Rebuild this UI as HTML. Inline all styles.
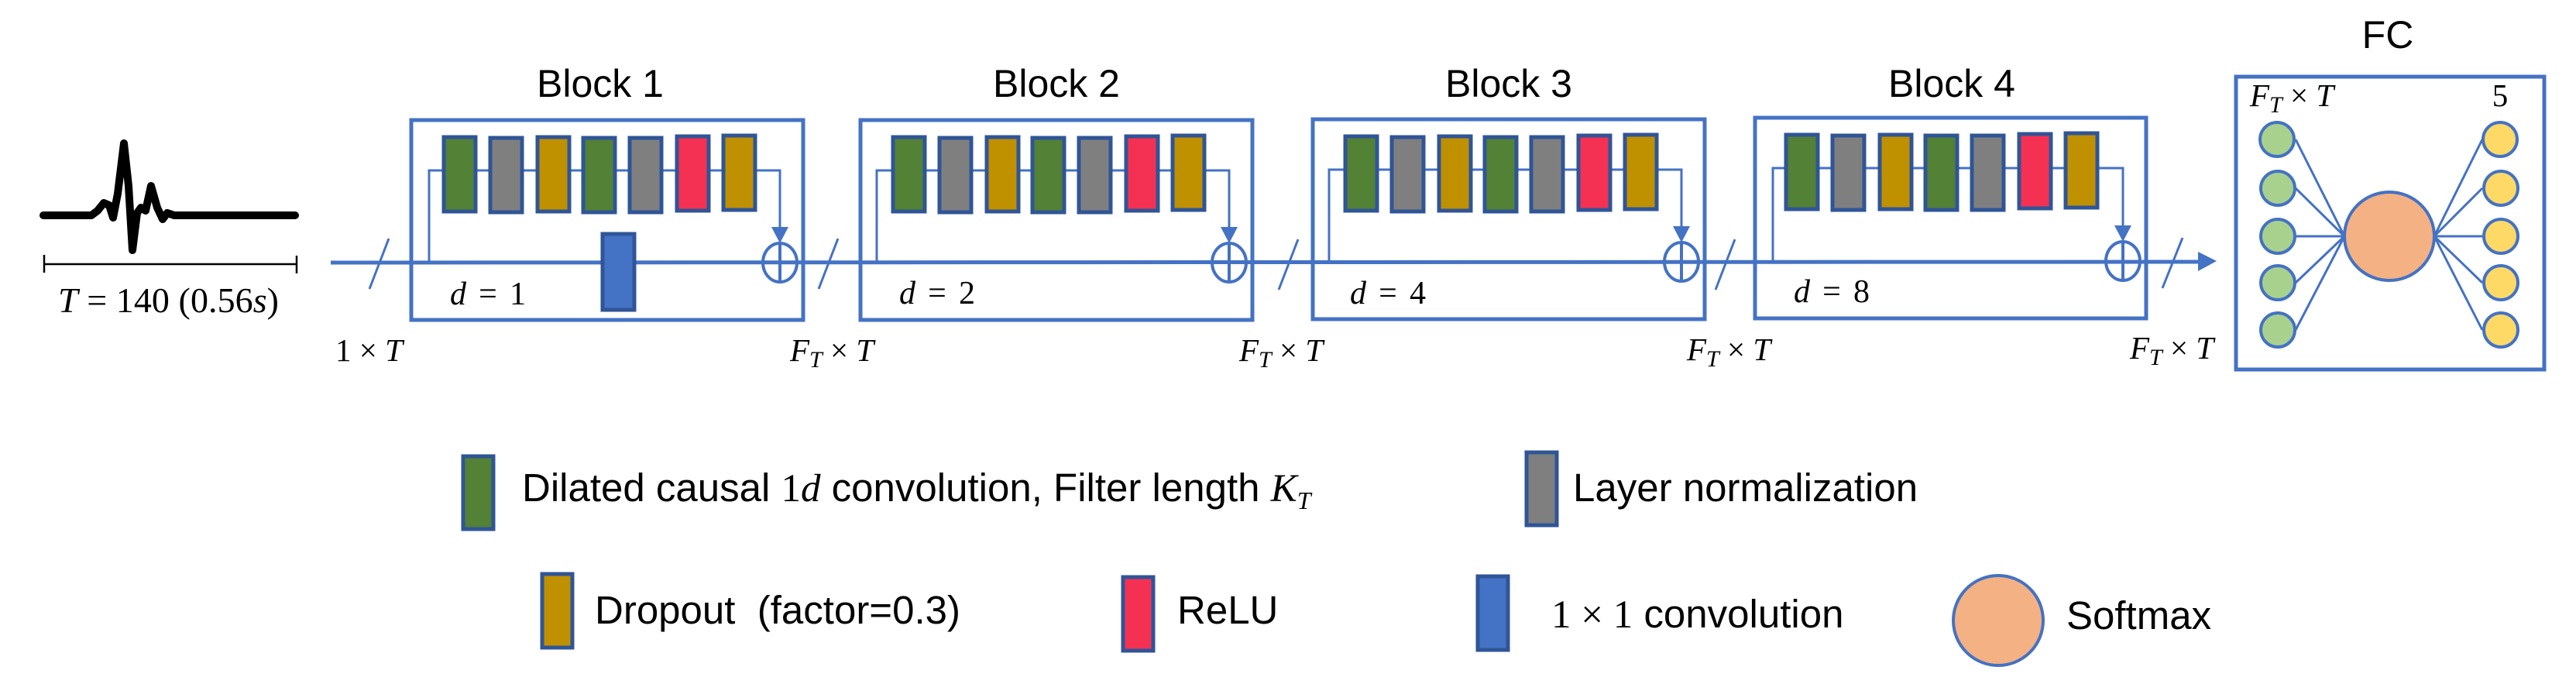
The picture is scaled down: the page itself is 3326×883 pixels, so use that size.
<!DOCTYPE html>
<html><head><meta charset="utf-8"><style>
html,body{margin:0;padding:0;background:#fff;}
svg{display:block;}
.t{font-family:"Liberation Sans",Arial,sans-serif;fill:#000;}
.m{font-family:"Liberation Serif","DejaVu Serif",serif;fill:#000;}
</style></head><body>
<svg width="3326" height="883" viewBox="0 0 3326 883" xmlns="http://www.w3.org/2000/svg">
<defs>
<g id="bars">
  <rect x="42" y="22" width="41" height="96" fill="#538135" stroke="#2f5597" stroke-width="5"/>
  <rect x="102" y="23" width="41" height="96" fill="#7f7f7f" stroke="#2f5597" stroke-width="5"/>
  <rect x="163" y="22" width="41" height="96" fill="#bf9000" stroke="#2f5597" stroke-width="5"/>
  <rect x="222" y="23" width="41" height="96" fill="#538135" stroke="#2f5597" stroke-width="5"/>
  <rect x="282" y="23" width="41" height="96" fill="#7f7f7f" stroke="#2f5597" stroke-width="5"/>
  <rect x="343" y="21" width="41" height="96" fill="#f43152" stroke="#2f5597" stroke-width="5"/>
  <rect x="403" y="20" width="41" height="96" fill="#bf9000" stroke="#2f5597" stroke-width="5"/>
</g>
</defs>

<!-- ECG -->
<polyline points="56,278 118,278 126,272 134,262 141,265 146,281 152,250 160,185 166,240 171,323 177,275 182,268 188,272 195,240 203,268 210,283 216,275 225,278 381,278" fill="none" stroke="#000" stroke-width="10" stroke-linejoin="round" stroke-linecap="round"/>
<line x1="57" y1="341" x2="383" y2="341" stroke="#000" stroke-width="2.5"/>
<line x1="57" y1="329" x2="57" y2="352" stroke="#000" stroke-width="2.5"/>
<line x1="383" y1="330" x2="383" y2="353" stroke="#000" stroke-width="2.5"/>
<text x="75" y="403" class="m" font-size="46" textLength="285"><tspan font-style="italic">T</tspan> = 140 (0.56<tspan font-style="italic">s</tspan>)</text>

<!-- main line -->
<line x1="427" y1="339" x2="2842" y2="338" stroke="#4472c4" stroke-width="5"/>
<polygon points="2838,325 2862,337 2838,350" fill="#4472c4"/>

<!-- slashes -->
<g stroke="#4472c4" stroke-width="3">
<line x1="502" y1="308" x2="477" y2="373"/>
<line x1="1082" y1="308" x2="1057" y2="373"/>
<line x1="1676" y1="309" x2="1651" y2="374"/>
<line x1="2240" y1="309" x2="2215" y2="374"/>
<line x1="2818" y1="307" x2="2792" y2="372"/>
</g>

<!-- blocks -->
<g transform="translate(531,0)">
  <rect x="0" y="155" width="506" height="258" fill="none" stroke="#4472c4" stroke-width="5"/>
  <polyline points="23,339 23,220 476,220 476,300" fill="none" stroke="#4472c4" stroke-width="3"/>
  <use href="#bars" y="155"/>
</g>
<g transform="translate(1111,0)">
  <rect x="0" y="155" width="506" height="258" fill="none" stroke="#4472c4" stroke-width="5"/>
  <polyline points="21,339 21,220 476,220 476,300" fill="none" stroke="#4472c4" stroke-width="3"/>
  <use href="#bars" y="155"/>
</g>
<g transform="translate(1695,0)">
  <rect x="0" y="154" width="506" height="258" fill="none" stroke="#4472c4" stroke-width="5"/>
  <polyline points="21,338 21,219 476,219 476,300" fill="none" stroke="#4472c4" stroke-width="3"/>
  <use href="#bars" y="154" x="0"/>
</g>
<g transform="translate(2266,0)">
  <rect x="0" y="152" width="505" height="259" fill="none" stroke="#4472c4" stroke-width="5"/>
  <polyline points="23,337 23,217 475,217 475,300" fill="none" stroke="#4472c4" stroke-width="3"/>
  <use href="#bars" y="152" x="-2"/>
</g>

<!-- 1x1 conv in block1 -->
<rect x="778" y="302" width="41" height="98" fill="#4472c4" stroke="#2f5597" stroke-width="5"/>

<!-- oplus & arrowheads -->
<g fill="none" stroke="#4472c4" stroke-width="4">
<ellipse cx="1007" cy="339" rx="22" ry="25"/><line x1="1007" y1="314" x2="1007" y2="364"/>
<ellipse cx="1587" cy="339" rx="22" ry="25"/><line x1="1587" y1="314" x2="1587" y2="364"/>
<ellipse cx="2171" cy="338" rx="22" ry="25"/><line x1="2171" y1="313" x2="2171" y2="363"/>
<ellipse cx="2741" cy="337" rx="22" ry="25"/><line x1="2741" y1="312" x2="2741" y2="362"/>
</g>
<g fill="#4472c4">
<polygon points="996,293 1018,293 1007,314"/>
<polygon points="1576,293 1598,293 1587,314"/>
<polygon points="2160,292 2182,292 2171,313"/>
<polygon points="2730,291 2752,291 2741,312"/>
</g>

<!-- block titles -->
<g class="t" font-size="50" text-anchor="middle">
<text x="775" y="125">Block 1</text>
<text x="1364" y="125">Block 2</text>
<text x="1948" y="125">Block 3</text>
<text x="2520" y="125">Block 4</text>
<text x="3083" y="62">FC</text>
</g>

<!-- d labels -->
<g class="m" font-size="42">
<text x="581" y="393" textLength="98"><tspan font-style="italic">d</tspan> = 1</text>
<text x="1161" y="392" textLength="98"><tspan font-style="italic">d</tspan> = 2</text>
<text x="1743" y="392" textLength="98"><tspan font-style="italic">d</tspan> = 4</text>
<text x="2316" y="390" textLength="98"><tspan font-style="italic">d</tspan> = 8</text>
</g>

<!-- dimension labels -->
<g class="m" font-size="41">
<text x="433" y="466">1 × <tspan font-style="italic">T</tspan></text>
<text x="1020" y="466"><tspan font-style="italic">F</tspan><tspan font-style="italic" font-size="30" dy="8">T</tspan><tspan dy="-8"> × </tspan><tspan font-style="italic">T</tspan></text>
<text x="1600" y="466"><tspan font-style="italic">F</tspan><tspan font-style="italic" font-size="30" dy="8">T</tspan><tspan dy="-8"> × </tspan><tspan font-style="italic">T</tspan></text>
<text x="2178" y="465"><tspan font-style="italic">F</tspan><tspan font-style="italic" font-size="30" dy="8">T</tspan><tspan dy="-8"> × </tspan><tspan font-style="italic">T</tspan></text>
<text x="2750" y="463"><tspan font-style="italic">F</tspan><tspan font-style="italic" font-size="30" dy="8">T</tspan><tspan dy="-8"> × </tspan><tspan font-style="italic">T</tspan></text>
<text x="2905" y="137"><tspan font-style="italic">F</tspan><tspan font-style="italic" font-size="30" dy="8">T</tspan><tspan dy="-8"> × </tspan><tspan font-style="italic">T</tspan></text>
<text x="3228" y="137" text-anchor="middle">5</text>
</g>

<!-- FC -->
<rect x="2887" y="99" width="398" height="378" fill="none" stroke="#4472c4" stroke-width="5"/>
<g stroke="#4472c4" stroke-width="3">
<line x1="2964" y1="180" x2="3027" y2="305"/><line x1="2964" y1="243" x2="3027" y2="305"/>
<line x1="2964" y1="305" x2="3027" y2="305"/><line x1="2964" y1="365" x2="3027" y2="305"/>
<line x1="2964" y1="426" x2="3027" y2="305"/>
<line x1="3205" y1="180" x2="3143" y2="305"/><line x1="3205" y1="243" x2="3143" y2="305"/>
<line x1="3205" y1="305" x2="3143" y2="305"/><line x1="3205" y1="365" x2="3143" y2="305"/>
<line x1="3205" y1="426" x2="3143" y2="305"/>
</g>
<g stroke="#4472c4" stroke-width="4">
<circle cx="2940" cy="180" r="22" fill="#a9d18e"/><circle cx="2941" cy="243" r="22" fill="#a9d18e"/>
<circle cx="2941" cy="305" r="22" fill="#a9d18e"/><circle cx="2941" cy="365" r="22" fill="#a9d18e"/>
<circle cx="2941" cy="426" r="22" fill="#a9d18e"/>
<circle cx="3228" cy="180" r="22" fill="#ffd966"/><circle cx="3229" cy="243" r="22" fill="#ffd966"/>
<circle cx="3229" cy="305" r="22" fill="#ffd966"/><circle cx="3229" cy="365" r="22" fill="#ffd966"/>
<circle cx="3229" cy="426" r="22" fill="#ffd966"/>
<ellipse cx="3085" cy="305" rx="58" ry="57" fill="#f4b183"/>
</g>

<!-- legend -->
<g stroke="#2f5597" stroke-width="5">
<rect x="598" y="589" width="39" height="94" fill="#538135"/>
<rect x="1971" y="584" width="39" height="94" fill="#7f7f7f"/>
<rect x="700" y="741" width="39" height="95" fill="#bf9000"/>
<rect x="1450" y="745" width="39" height="95" fill="#f43152"/>
<rect x="1908" y="744" width="39" height="95" fill="#4472c4"/>
</g>
<circle cx="2580" cy="801" r="58" fill="#f4b183" stroke="#4472c4" stroke-width="4"/>
<g class="t" font-size="51">
<text x="674" y="647">Dilated causal <tspan class="m">1<tspan font-style="italic">d</tspan></tspan> convolution, Filter length <tspan class="m" font-style="italic">K</tspan><tspan class="m" font-style="italic" font-size="32" dy="10">T</tspan></text>
<text x="2031" y="647">Layer normalization</text>
<text x="768" y="805" xml:space="preserve">Dropout  (factor=0.3)</text>
<text x="1520" y="805">ReLU</text>
<text x="2003" y="810"><tspan class="m">1 × 1</tspan> convolution</text>
<text x="2668" y="812">Softmax</text>
</g>
</svg>
</body></html>
